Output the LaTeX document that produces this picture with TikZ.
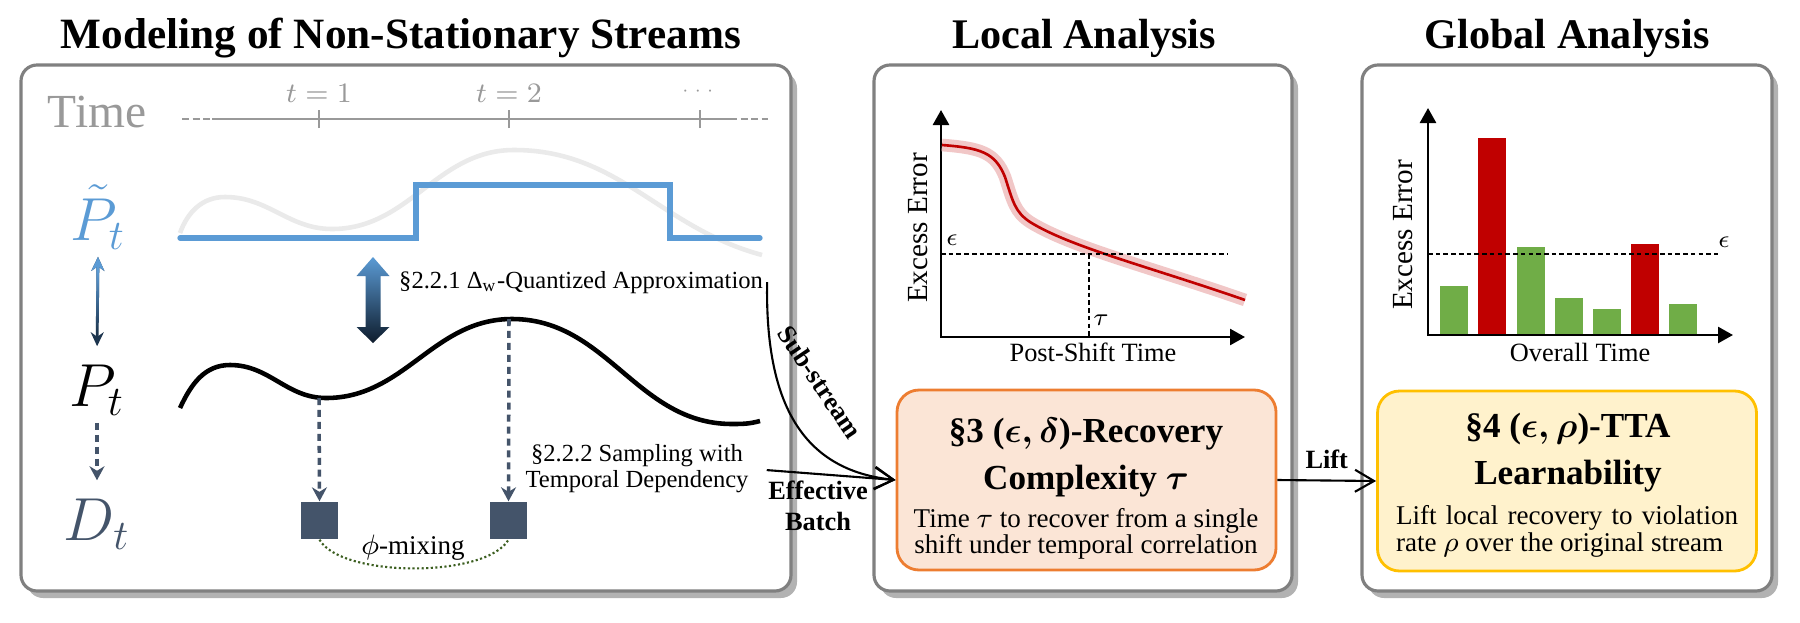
\documentclass[tikz,border=0pt]{standalone}
\usepackage{fontspec}
\setmainfont{Liberation Serif}
\usepackage{amsmath}
\usepackage{amssymb}
\usepackage{xcolor}
\usetikzlibrary{arrows.meta,shadows,fadings}
\definecolor{stepblue}{HTML}{5B9BD5}
\definecolor{navy}{HTML}{0E1C2C}
\definecolor{slate}{HTML}{44546A}
\definecolor{dred}{HTML}{C00000}
\definecolor{lgreen}{HTML}{70AD47}
\definecolor{dgreen}{HTML}{3B5E1F}
\definecolor{orgline}{HTML}{ED7D31}
\definecolor{orgfill}{HTML}{FBE5D6}
\definecolor{ylwline}{HTML}{FFC000}
\definecolor{ylwfill}{HTML}{FFF2CC}
\definecolor{framegray}{HTML}{808080}
\definecolor{timegray}{HTML}{999999}
\definecolor{ghostgray}{HTML}{EAEAEA}

\newcommand{\fsz}[2]{\fontsize{#1}{#2}\selectfont}
\tikzfading[name=fadedown, top color=transparent!0, bottom color=transparent!100]

\tikzset{
  panel/.style={draw=framegray, line width=0.9pt, fill=white, rounded corners=1.6mm,
    drop shadow={shadow xshift=0.6mm, shadow yshift=-0.7mm, fill=black, opacity=0.3}},
  paneltitle/.style={font=\fsz{12}{14}\bfseries, inner sep=0pt},
  dist/.style={inner sep=2pt, font=\fsz{18}{20}},
  ticklab/.style={font=\fsz{8}{9}, text=timegray, inner sep=0pt},
  note/.style={font=\fsz{7}{7.4}, inner sep=1pt},
  tag/.style={font=\fsz{7.5}{8.8}\bfseries, inner sep=1pt},
  plotlab/.style={font=\fsz{7.5}{8.5}, inner sep=0pt},
  axislab/.style={font=\fsz{8.3}{9}, inner sep=0pt, rotate=90},
  sample/.style={fill=slate, minimum size=3.7mm, inner sep=0pt},
  flow/.style={line width=0.6pt, -{Straight Barb[length=1.9mm,width=2.2mm]}},
  thinarrow/.style={line width=0.8pt, {Stealth[length=1.4mm,width=1.3mm]}-{Stealth[length=1.4mm,width=1.3mm]}},
  slatedash/.style={slate, line width=1.2pt, dash pattern=on 2pt off 1.4pt, -{Stealth[length=1.4mm,width=1.5mm]}},
  plotaxis/.style={line width=0.75pt, {Triangle[length=1.5mm,width=1.6mm]}-{Triangle[length=1.5mm,width=1.6mm]}},
  guide/.style={line width=0.35pt, dash pattern=on 1.3pt off 0.9pt},
  recbox/.style={draw=orgline, fill=orgfill, line width=0.8pt, rounded corners=2.2mm, minimum width=3.79cm, minimum height=1.8cm},
  ttabox/.style={recbox, draw=ylwline, fill=ylwfill},
  boxhead/.style={font=\fsz{10}{13.4}\bfseries\boldmath, align=center, inner sep=0pt},
  boxnote/.style={font=\fsz{7.7}{7.3}, align=center, inner sep=0pt},
}

\begin{document}
\begin{tikzpicture}[x=0.1mm, y=0.1mm]
\useasboundingbox (0,0) rectangle (1800,622);
% panels
\draw[panel] (21,31) rectangle (791,557);
\draw[panel] (874,31) rectangle (1292,557);
\draw[panel] (1362,31) rectangle (1772,557);
\node[paneltitle, anchor=base, font=\fsz{12.3}{14}\bfseries] (ttl1) at (401,574) {Modeling of Non-Stationary Streams};
\node[paneltitle, anchor=base] (ttl2) at (1084,574) {Local Analysis};
\node[paneltitle, anchor=base] (ttl3) at (1567,574) {Global Analysis};

% time axis
\node[anchor=base, inner sep=0pt, text=timegray, font=\fsz{13.5}{15}] (time) at (97,495) {Time};
\draw[timegray, line width=0.7pt] (212,503) -- (730,503);
\draw[timegray, line width=0.7pt, dash pattern=on 2pt off 1pt] (182,503) -- (212,503) (730,503) -- (768,503);
\foreach \x in {319,509,700}
  \draw[timegray, line width=0.7pt] (\x,494) -- (\x,512);
\node[ticklab] (tk1) at (319,529) {$t=1$};
\node[ticklab] (tk2) at (509,529) {$t=2$};
\node[ticklab, font=\fsz{5}{6}] (tk3) at (700,531) {$\cdots$};

% distributions
\node[dist, text=stepblue, anchor=base] (ptil) at (98,382) {$\tilde{P}_t$};
\node[dist, anchor=base] (pt) at (97,216) {$P_t$};
\node[dist, text=slate, anchor=base] (dt) at (97,82) {$D_t$};

\draw[ghostgray, line width=1.3pt] (180,389) to[out=70,in=180] (225,425) to[out=0,in=180] (332,393)
  to[out=0,in=180] (514,472) to[out=0,in=165] (762,367);
\draw[stepblue, line width=1.5pt, line cap=round] (180,384) -- (416,384) -- (416,437) -- (670,437) -- (670,384) -- (760,384);
\draw[line width=1.3pt] (180,214) to[out=65,in=180] (230,257) to[out=0,in=180] (326,224)
  to[out=0,in=180] (512,303) to[out=0,in=180] (732,198) to[out=0,in=195] (760,201);

\draw[navy!80!stepblue, thinarrow, shorten >=3pt] (ptil.south) -- (pt.north);
\draw[stepblue, thinarrow, shorten >=3pt, path fading=fadedown, fit fading=false,
  fading transform={shift={(98,320)}, yscale=0.35}] (ptil.south) -- (pt.north);
\draw[slatedash, shorten >=3pt] (pt.south) -- (dt.north);

\shade[top color=stepblue, bottom color=navy] (373,365) -- (389.5,346) -- (380.5,346) -- (380.5,295) -- (389.5,295)
  -- (373,279) -- (356.5,295) -- (365.5,295) -- (365.5,346) -- (356.5,346) -- cycle;
\node[note, anchor=base west] (q221) at (395,334) {§2.2.1 Δ\textsubscript{w}-Quantized Approximation};
\node[note, align=center] (q222) at (637,153) {§2.2.2 Sampling with\\Temporal Dependency};

% samples
\node[sample] (s1) at (319.5,101.5) {};
\node[sample] (s2) at (508.5,101.5) {};
\coordinate (low) at (319,224);
\coordinate (high) at (509,303);
\draw[slatedash, line width=1pt] (low) -- (s1.north);
\draw[slatedash, line width=1pt] (high) -- (s2.north);
\draw[dgreen, line width=0.6pt, dash pattern=on 0.6pt off 0.7pt] (s1.south) to[out=-60,in=-120,looseness=0.6] (s2.south);
\node[note, font=\fsz{7.7}{8}] (mix) at (413,74) {$\phi$-mixing};

% local analysis
\draw[plotaxis] (941,512) -- (941,285) -- (1245,285);
\draw[dred, line width=0.75pt, preaction={draw=dred!22, line width=3.6pt}] (942,477) .. controls (980,474) and (995,470) .. (1005,445)
  .. controls (1013,420) and (1015,410) .. (1030,400) .. controls (1070,375) and (1150,355) .. (1245,322);
\draw[guide] (941,368) -- (1228,368);
\draw[guide] (1089,368) -- (1089,285);
\node[plotlab] (eps1) at (952,382) {$\epsilon$};
\node[plotlab] (tau1) at (1101,302) {$\tau$};
\node[axislab] (ylab1) at (918,394) {Excess Error};
\node[plotlab] (xlab1) at (1093,270) {Post-Shift Time};

\node[recbox] (rec) at (1086.5,142) {};
\node[boxhead] (rech) at (1086,164) {§3 ($\epsilon,\delta$)-Recovery\\Complexity $\tau$};
\node[boxnote] (recn) at (1086,88) {Time $\tau$ to recover from a single\\shift under temporal correlation};

% global analysis
\foreach \x/\h/\c in {1440/336/lgreen,1478/484/dred,1517/375/lgreen,1555/324/lgreen,1593/313/lgreen,1631/378/dred,1669/318/lgreen}
  \fill[\c] (\x,287) rectangle (\x+28,\h);
\draw[plotaxis] (1428,514) -- (1428,287) -- (1733,287);
\draw[guide] (1428,368) -- (1718,368);
\node[plotlab] (eps2) at (1724,380) {$\epsilon$};
\node[axislab] (ylab2) at (1403,387) {Excess Error};
\node[plotlab] (xlab2) at (1580,270) {Overall Time};

\node[ttabox] (tta) at (1567,141) {};
\node[boxhead] (ttah) at (1568,169) {§4 ($\epsilon,\rho$)-TTA\\Learnability};
\node[boxnote, align=justify, text width=3.42cm, font=\fsz{7.7}{7.7}] (ttan) at (1567,91) {Lift local recovery to violation rate $\rho$ over the original stream};

% connectors
\draw[flow] (q221.east) .. controls (765,222) and (800,152) .. (rec.west);
\draw[flow, shorten <=4pt] (q222.east) -- (rec.west);
\node[tag, rotate=-56] (sub) at (820,240) {Sub-stream};
\node[tag, align=center] (eff) at (818,116) {Effective\\Batch};
\draw[flow] (rec.east) -- node[tag, above=2pt] (lift) {Lift} (tta.west);
\end{tikzpicture}
\end{document}
